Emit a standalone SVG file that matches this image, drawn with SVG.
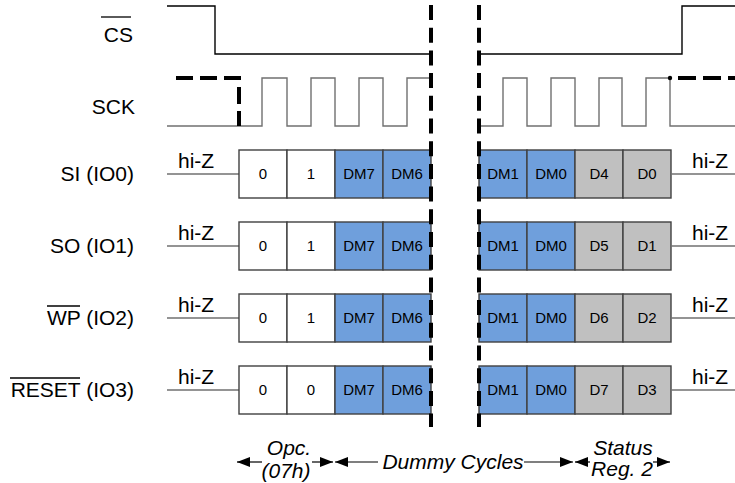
<svg xmlns="http://www.w3.org/2000/svg" width="735" height="483" viewBox="0 0 735 483">
<defs>
<style>
text{font-family:"Liberation Sans",Arial,sans-serif;fill:#000}
.lbl{font-size:21px;text-anchor:end}
.hz{font-size:21px}
.bt{font-size:15px;text-anchor:middle}
.it{font-size:21px;font-style:italic;text-anchor:middle}
.w{fill:#fff;stroke:#404040;stroke-width:1.4}
.b{fill:#6f9fdc;stroke:#404040;stroke-width:1.4}
.g{fill:#c0c0c0;stroke:#404040;stroke-width:1.4}
.sig{fill:none;stroke:#000;stroke-width:1.4}
.clk{fill:none;stroke:#707070;stroke-width:1.4}
.hzl{fill:none;stroke:#707070;stroke-width:1.4}
.dash{fill:none;stroke:#000;stroke-width:4;stroke-dasharray:15 7.7}
.ol{stroke:#000;stroke-width:1.3}
.arr{stroke:#000;stroke-width:1.2;fill:none}
</style>
<marker id="ah" viewBox="0 0 13 10" refX="13" refY="5" markerWidth="13" markerHeight="10" markerUnits="userSpaceOnUse" orient="auto-start-reverse">
<path d="M0,0 L13,5 L0,10 Z" fill="#000"/>
</marker>
</defs>

<g id="cs">
<text class="lbl" x="133" y="42">CS</text>
<line class="ol" x1="101" y1="17" x2="131" y2="17"/>
<path class="sig" d="M167,6 H215 V54 H431"/>
<path class="sig" d="M479,54 H682 V6 H735"/>
</g>

<g id="sck">
<text class="lbl" x="135" y="114">SCK</text>
<path class="clk" d="M167,126 H262 V78 H287 V126 H311 V78 H335 V126 H359 V78 H383 V126 H407 V78 H431"/>
<path class="clk" d="M479,126 H503 V78 H527 V126 H551 V78 H575 V126 H599 V78 H622 V126 H646 V78 H670 V126 H735"/>
<path class="dash" style="stroke-dasharray:17 7" d="M176,78 H239 V126"/>
<circle cx="670" cy="78" r="2.2" fill="#000"/>
<path class="dash" style="stroke-dasharray:18 7" d="M678,78 H735"/>
</g>

<g id="si">
<text class="lbl" x="134" y="181">SI (IO0)</text>
<path class="hzl" d="M167,174 H239"/>
<text class="hz" x="178" y="168">hi-Z</text>
<rect class="w" x="239" y="150" width="48" height="48"/>
<rect class="w" x="287" y="150" width="48" height="48"/>
<rect class="b" x="335" y="150" width="48" height="48"/>
<rect class="b" x="383" y="150" width="48" height="48"/>
<text class="bt" x="263" y="179">0</text>
<text class="bt" x="311" y="179">1</text>
<text class="bt" x="359" y="179">DM7</text>
<text class="bt" x="407" y="179">DM6</text>
<rect class="b" x="479" y="150" width="48" height="48"/>
<rect class="b" x="527" y="150" width="48" height="48"/>
<rect class="g" x="575" y="150" width="48" height="48"/>
<rect class="g" x="623" y="150" width="48" height="48"/>
<text class="bt" x="503" y="179">DM1</text>
<text class="bt" x="551" y="179">DM0</text>
<text class="bt" x="599" y="179">D4</text>
<text class="bt" x="647" y="179">D0</text>
<path class="hzl" d="M671,174 H735"/>
<text class="hz" x="692" y="168">hi-Z</text>
</g>

<g id="so">
<text class="lbl" x="134" y="253">SO (IO1)</text>
<path class="hzl" d="M167,246 H239"/>
<text class="hz" x="178" y="240">hi-Z</text>
<rect class="w" x="239" y="222" width="48" height="48"/>
<rect class="w" x="287" y="222" width="48" height="48"/>
<rect class="b" x="335" y="222" width="48" height="48"/>
<rect class="b" x="383" y="222" width="48" height="48"/>
<text class="bt" x="263" y="251">0</text>
<text class="bt" x="311" y="251">1</text>
<text class="bt" x="359" y="251">DM7</text>
<text class="bt" x="407" y="251">DM6</text>
<rect class="b" x="479" y="222" width="48" height="48"/>
<rect class="b" x="527" y="222" width="48" height="48"/>
<rect class="g" x="575" y="222" width="48" height="48"/>
<rect class="g" x="623" y="222" width="48" height="48"/>
<text class="bt" x="503" y="251">DM1</text>
<text class="bt" x="551" y="251">DM0</text>
<text class="bt" x="599" y="251">D5</text>
<text class="bt" x="647" y="251">D1</text>
<path class="hzl" d="M671,246 H735"/>
<text class="hz" x="692" y="240">hi-Z</text>
</g>

<g id="wp">
<text class="lbl" x="134" y="325">WP (IO2)</text>
<line class="ol" x1="47" y1="306" x2="80" y2="306"/>
<path class="hzl" d="M167,318 H239"/>
<text class="hz" x="178" y="312">hi-Z</text>
<rect class="w" x="239" y="294" width="48" height="48"/>
<rect class="w" x="287" y="294" width="48" height="48"/>
<rect class="b" x="335" y="294" width="48" height="48"/>
<rect class="b" x="383" y="294" width="48" height="48"/>
<text class="bt" x="263" y="323">0</text>
<text class="bt" x="311" y="323">1</text>
<text class="bt" x="359" y="323">DM7</text>
<text class="bt" x="407" y="323">DM6</text>
<rect class="b" x="479" y="294" width="48" height="48"/>
<rect class="b" x="527" y="294" width="48" height="48"/>
<rect class="g" x="575" y="294" width="48" height="48"/>
<rect class="g" x="623" y="294" width="48" height="48"/>
<text class="bt" x="503" y="323">DM1</text>
<text class="bt" x="551" y="323">DM0</text>
<text class="bt" x="599" y="323">D6</text>
<text class="bt" x="647" y="323">D2</text>
<path class="hzl" d="M671,318 H735"/>
<text class="hz" x="692" y="312">hi-Z</text>
</g>

<g id="reset">
<text class="lbl" x="134" y="397">RESET (IO3)</text>
<line class="ol" x1="10" y1="378" x2="80" y2="378"/>
<path class="hzl" d="M167,390 H239"/>
<text class="hz" x="178" y="384">hi-Z</text>
<rect class="w" x="239" y="366" width="48" height="48"/>
<rect class="w" x="287" y="366" width="48" height="48"/>
<rect class="b" x="335" y="366" width="48" height="48"/>
<rect class="b" x="383" y="366" width="48" height="48"/>
<text class="bt" x="263" y="395">0</text>
<text class="bt" x="311" y="395">0</text>
<text class="bt" x="359" y="395">DM7</text>
<text class="bt" x="407" y="395">DM6</text>
<rect class="b" x="479" y="366" width="48" height="48"/>
<rect class="b" x="527" y="366" width="48" height="48"/>
<rect class="g" x="575" y="366" width="48" height="48"/>
<rect class="g" x="623" y="366" width="48" height="48"/>
<text class="bt" x="503" y="395">DM1</text>
<text class="bt" x="551" y="395">DM0</text>
<text class="bt" x="599" y="395">D7</text>
<text class="bt" x="647" y="395">D3</text>
<path class="hzl" d="M671,390 H735"/>
<text class="hz" x="692" y="384">hi-Z</text>
</g>

<g id="breaks">
<path class="dash" d="M431,5 V427"/>
<path class="dash" d="M479,5 V427"/>
</g>

<g id="connectors">
<path class="arr" d="M262,462 H237" marker-end="url(#ah)"/>
<path class="arr" d="M312,462 H333" marker-end="url(#ah)"/>
<path class="arr" d="M378,462 H335" marker-end="url(#ah)"/>
<path class="arr" d="M524,462 H573" marker-end="url(#ah)"/>
<path class="arr" d="M590,462 H575" marker-end="url(#ah)"/>
<path class="arr" d="M653,462 H670" marker-end="url(#ah)"/>
</g>

<g id="spans">
<text class="it" x="289" y="455">Opc.</text>
<text class="it" x="286" y="478">(07h)</text>
<text class="it" x="453" y="469">Dummy Cycles</text>
<text class="it" x="623" y="455">Status</text>
<text class="it" x="622" y="476">Reg. 2</text>
</g>
</svg>
